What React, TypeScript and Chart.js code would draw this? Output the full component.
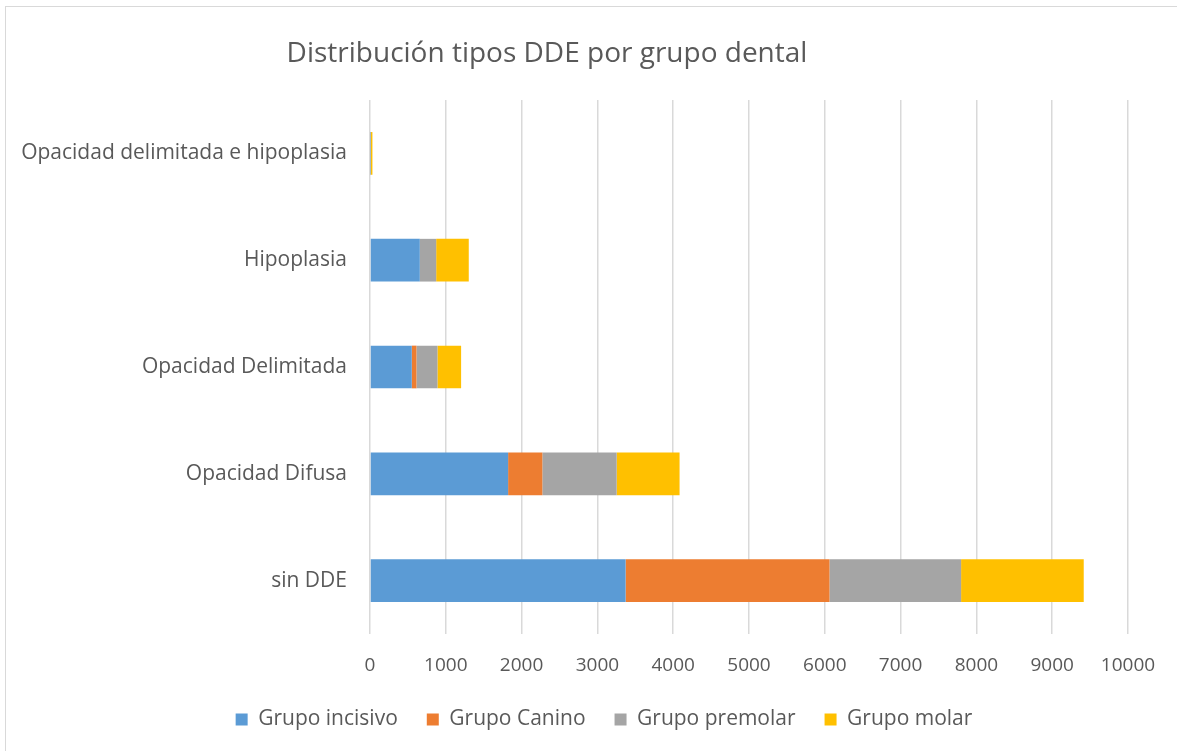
import React, { useEffect, useRef } from "react";
import { Chart, registerables } from "chart.js";

Chart.register(...registerables);

const TITLE = "Distribución tipos DDE por grupo dental";
const categories = [
  "Opacidad delimitada e hipoplasia",
  "Hipoplasia",
  "Opacidad Delimitada",
  "Opacidad Difusa",
  "sin DDE",
];
const seriesNames = ["Grupo incisivo", "Grupo Canino", "Grupo premolar", "Grupo molar"];
const incisivo = [6, 657, 551, 1822, 3372];
const canino = [0, 0, 62, 452, 2690];
const premolar = [6, 216, 277, 980, 1736];
const molar = [20, 430, 312, 830, 1618];
const seriesColors = ["#5b9bd5", "#ed7d31", "#a5a5a5", "#ffc000"];
const xMin = 0;
const xMax = 10000;
const xStep = 1000;

const FONT = "'Open Sans', 'DejaVu Sans', sans-serif";
const TEXT = "#595959";

const CW = 1171;
const CH = 744;

const titlePlugin = {
  id: "customTitle",
  afterDraw(chart: any) {
    const ctx = chart.ctx;
    ctx.save();
    ctx.font = `28px ${FONT}`;
    ctx.fillStyle = TEXT;
    ctx.textAlign = "center";
    ctx.textBaseline = "middle";
    ctx.fillText(TITLE, 541, 47);
    ctx.restore();
  },
};

const legendShift = {
  id: "legendShift",
  afterLayout(chart: any) {
    const lg = chart.legend;
    if (lg) {
      lg.left += 37;
      lg.right += 37;
    }
  },
};

export default function App() {
  const ref = useRef<HTMLCanvasElement | null>(null);
  useEffect(() => {
    if (!ref.current) return;
    const allSeries = [incisivo, canino, premolar, molar];
    const chart = new Chart(ref.current, {
      type: "bar",
      data: {
        labels: categories,
        datasets: allSeries.map((d, i) => ({
          label: seriesNames[i],
          data: d,
          backgroundColor: seriesColors[i],
          borderWidth: 0,
          categoryPercentage: 1,
          barPercentage: 0.4,
        })),
      },
      options: {
        indexAxis: "y",
        responsive: false,
        animation: false,
        layout: { padding: { left: 0, right: 49, top: 93, bottom: 11 } },
        plugins: {
          title: { display: false },
          tooltip: { enabled: false },
          legend: {
            position: "bottom",
            labels: {
              boxWidth: 12,
              boxHeight: 12,
              padding: 29,
              color: TEXT,
              font: { family: FONT, size: 21 },
            },
          },
        },
        scales: {
          x: {
            stacked: true,
            min: xMin,
            max: xMax,
            ticks: {
              stepSize: xStep,
              color: TEXT,
              font: { family: FONT, size: 19 },
              padding: 20,
              callback: (v: any) => String(v),
            },
            grid: { color: "#d9d9d9", lineWidth: 1.5, drawTicks: false },
            border: { display: false },
            afterFit: (s: any) => {
              s.height = 46;
            },
          },
          y: {
            stacked: true,
            ticks: {
              color: TEXT,
              font: { family: FONT, size: 21 },
              padding: 23,
            },
            grid: { display: false, drawTicks: false },
            border: { display: false },
            afterFit: (s: any) => {
              s.width = 364;
            },
          },
        },
      },
      plugins: [titlePlugin, legendShift],
    });
    return () => chart.destroy();
  }, []);
  return (
    <div
      style={{
        position: "fixed",
        left: 5,
        top: 6,
        width: CW + 10,
        height: CH + 10,
        borderTop: "1.5px solid #d9d9d9",
        borderLeft: "1.5px solid #d9d9d9",
        background: "#fff",
      }}
    >
      <canvas ref={ref} width={CW} height={CH} style={{ display: "block" }} />
    </div>
  );
}
